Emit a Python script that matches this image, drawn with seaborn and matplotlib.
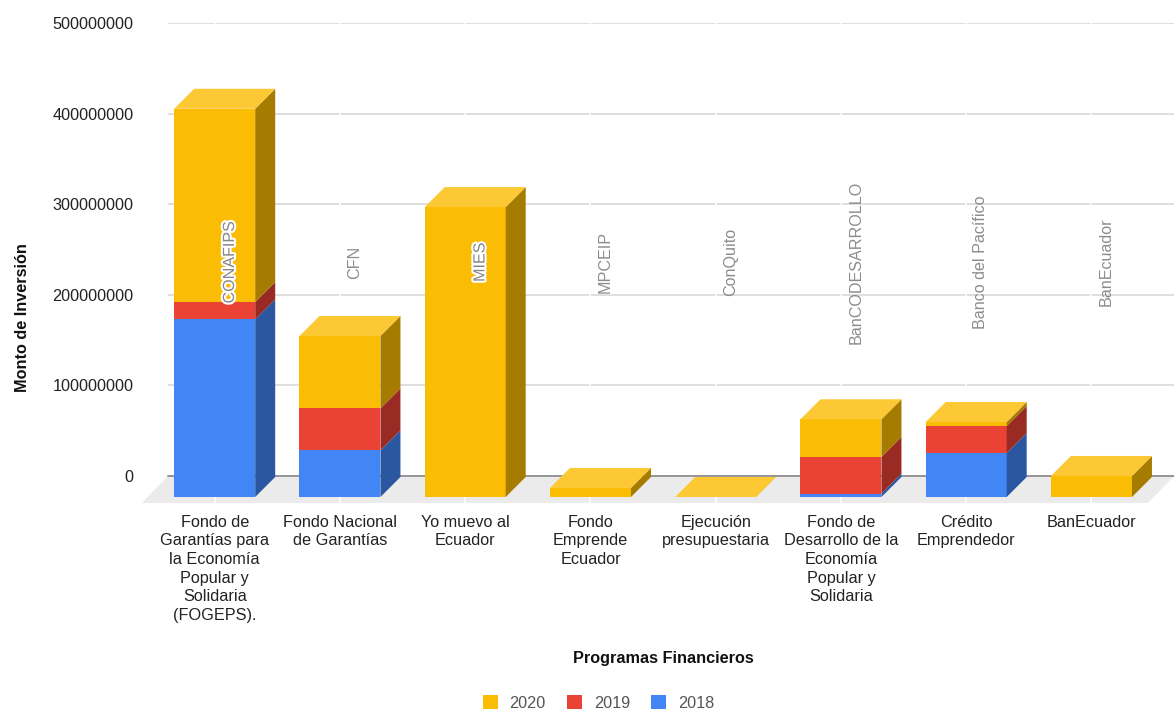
import matplotlib
matplotlib.use("Agg")
import matplotlib.pyplot as plt
import matplotlib.patheffects as pe
from matplotlib.patches import Polygon, Patch
from matplotlib.transforms import ScaledTranslation
import seaborn as sns

categories = ["Fondo de\nGarantías para\nla Economía\nPopular y\nSolidaria\n(FOGEPS).",
              "Fondo Nacional\nde Garantías", "Yo muevo al\nEcuador",
              "Fondo\nEmprende\nEcuador", "Ejecución\npresupuestaria",
              "Fondo de\nDesarrollo de la\nEconomía\nPopular y\nSolidaria",
              "Crédito\nEmprendedor", "BanEcuador"]
v2018 = [196.0e6, 51.5e6, 0, 0, 0, 3.8e6, 48.6e6, 0]
v2019 = [19.3e6, 46.4e6, 0, 0, 0, 40.4e6, 29.8e6, 0]
v2020 = [213.2e6, 79.8e6, 320e6, 10e6, 0, 41.6e6, 4.4e6, 23.2e6]
annotations = ["CONAFIPS", "CFN", "MIES", "MPCEIP", "ConQuito",
               "BanCODESARROLLO", "Banco del Pacífico", "BanEcuador"]
yticks = [0, 100000000, 200000000, 300000000, 400000000, 500000000]

W, H = 1174, 711
sns.set_theme(style="white")
plt.rcParams["font.family"] = ["Liberation Sans", "DejaVu Sans"]
FS = 11.7
fig = plt.figure(figsize=(W / 100, H / 100), dpi=100)
ax = fig.add_axes([168 / W, 1 - 476 / H, (1174 - 168) / W, (476 - 23) / H])

PX_X = 125.25            # pixels per category
PX_Y = 453 / 500e6       # pixels per unit of value
xlim = ((168 - 214.7) / PX_X, (1174 - 214.7) / PX_X)
front = ax.transData + ScaledTranslation(0, -0.21, fig.dpi_scale_trans)
DX, DY = 20 / PX_X, 20 / PX_Y

series = [(v2018, "#4285F4", "#2A57A0", "2018"),
          (v2019, "#EA4335", "#992B24", "2019"),
          (v2020, "#FBBC04", "#A67C00", "2020")]
TOP = "#FCC934"
width = 81 / PX_X

bottom = [0.0] * len(categories)
for vals, col, side, _ in series:
    n0 = len(ax.patches)
    sns.barplot(x=categories, y=vals, bottom=bottom, color=col, saturation=1,
                width=width, ax=ax, zorder=4, linewidth=0)
    for p, v in zip(list(ax.patches)[n0:], vals):
        p.set_transform(front)
        p.set_clip_on(False)
        x0, x1 = p.get_x(), p.get_x() + p.get_width()
        y0, y1 = p.get_y(), p.get_y() + p.get_height()
        if v > 0:
            ax.add_patch(Polygon([(x1, y0), (x1 + DX, y0 + DY), (x1 + DX, y1 + DY), (x1, y1)],
                                 closed=True, fc=side, ec="none", transform=front,
                                 clip_on=False, zorder=4))
    bottom = [b + v for b, v in zip(bottom, vals)]

for i, total in enumerate(bottom):
    x0, x1 = i - width / 2, i + width / 2
    ax.add_patch(Polygon([(x0, total), (x1, total), (x1 + DX, total + DY), (x0 + DX, total + DY)],
                         closed=True, fc=TOP, ec="none", transform=front, clip_on=False, zorder=5))

ax.set_xlim(*xlim)
ax.set_ylim(0, 500e6)

# floor and wall
FX, FY = 26 / PX_X, 27 / PX_Y
ax.add_patch(Polygon([(xlim[0], 0), (xlim[1], 0), (xlim[1] - FX, -FY), (xlim[0] - FX, -FY)],
                     closed=True, fc="#EBEBEB", ec="none", clip_on=False, zorder=1))
ax.set_yticks(yticks, labels=[str(t) for t in yticks])
ax.grid(axis="y", color="#D9D9D9", lw=1.2, zorder=1)
ax.set_axisbelow(True)
ax.vlines(range(len(categories)), -FY, 500e6, color="white", lw=1.1, zorder=2, clip_on=False)
sns.despine(ax=ax, left=True, top=True, right=True)
ax.spines["bottom"].set_color("#7F7F7F")
ax.spines["bottom"].set_linewidth(1.1)
ax.spines["bottom"].set_zorder(3)

ax.tick_params(axis="y", length=0, pad=25, labelsize=FS, labelcolor="#222222")
ax.tick_params(axis="x", length=0, pad=28, labelsize=FS, labelcolor="#222222")
for t in ax.get_xticklabels():
    t.set_linespacing(1.3)
    t.set_ha("center")

ax.set_xlabel("Programas Financieros", fontsize=FS, fontweight="bold", color="#111111")
ax.set_ylabel("Monto de Inversión", fontsize=FS, fontweight="bold", color="#111111")
ax.xaxis.set_label_coords(663.5 / W, 1 - 651.5 / H, transform=fig.transFigure)
ax.yaxis.set_label_coords(30 / W, 1 - 318 / H, transform=fig.transFigure)

# rotated annotations
for i, s in enumerate(annotations):
    txt = ax.text(i + 0.118, 236e6, s, rotation=90, ha="center", va="center",
                  fontsize=FS - 0.1, color="#8C8C8C", zorder=6)
    if s in ("CONAFIPS", "MIES"):
        txt.set_color("#888888")
        txt.set_path_effects([pe.withStroke(linewidth=3, foreground="white")])

handles = [Patch(fc=c, ec="none", label=l) for _, c, _, l in reversed(series)]
fig.legend(handles=handles, ncol=3, loc="center", bbox_to_anchor=(598.5 / W, 1 - 703 / H),
           frameon=False, fontsize=FS, labelcolor="#555555", handlelength=0.92,
           handleheight=0.92, handletextpad=0.74, columnspacing=1.3)

fig.savefig("out.png", dpi=100)
